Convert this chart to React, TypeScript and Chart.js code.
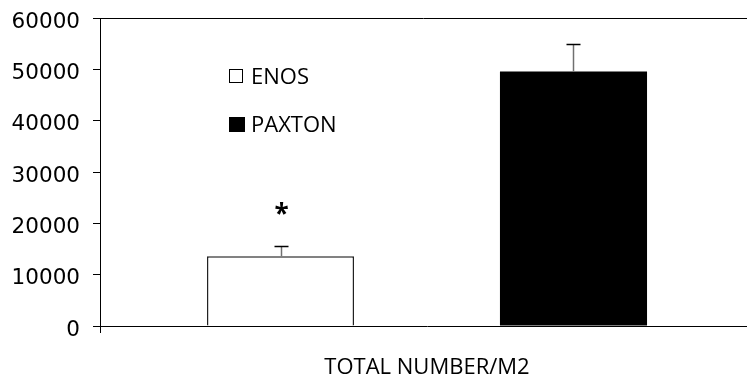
import React, { useEffect, useRef } from "react";
import { Chart, registerables } from "chart.js";

Chart.register(...registerables);

const categories = ["TOTAL NUMBER/M2"];
const seriesLabels = ["ENOS", "PAXTON"];
const enosValues = [13600];
const enosErrors = [1950];
const paxtonValues = [49600];
const paxtonErrors = [5400];
const yMin = 0;
const yMax = 60000;
const yStep = 10000;
const significanceMark = "*";

const FONT = "'Open Sans', sans-serif";

const errorBarPlugin = {
  id: "errorBars",
  afterDatasetsDraw(chart: any) {
    const { ctx, scales } = chart;
    const y = scales.y;
    chart.data.datasets.forEach((ds: any, di: number) => {
      const meta = chart.getDatasetMeta(di);
      meta.data.forEach((bar: any, i: number) => {
        const err = ds.errors?.[i];
        if (err == null) return;
        const top = Math.round(y.getPixelForValue(ds.data[i] + err)) + 0.5;
        const x = Math.round(bar.x) + 0.5;
        ctx.save();
        ctx.strokeStyle = "#707070";
        ctx.lineWidth = 1.5;
        ctx.beginPath();
        ctx.moveTo(x, bar.y);
        ctx.lineTo(x, top);
        ctx.stroke();
        ctx.strokeStyle = "#000";
        ctx.lineWidth = 1.5;
        ctx.beginPath();
        ctx.moveTo(x - 7, top);
        ctx.lineTo(x + 7, top);
        ctx.stroke();
        if (ds.mark) {
          ctx.fillStyle = "#000";
          ctx.font = `bold 26px ${FONT}`;
          ctx.textAlign = "center";
          ctx.textBaseline = "middle";
          ctx.fillText(ds.mark, x, top - 31);
        }
        ctx.restore();
      });
    });
  },
};

const frameLegendPlugin = {
  id: "frameLegend",
  afterDraw(chart: any) {
    const { ctx, chartArea } = chart;
    ctx.save();
    ctx.strokeStyle = "#000";
    ctx.lineWidth = 1;
    ctx.beginPath();
    ctx.moveTo(chartArea.left - 7, Math.round(chartArea.top) + 0.5);
    ctx.lineTo(chartArea.right, Math.round(chartArea.top) + 0.5);
    ctx.stroke();
    const lx = 229;
    const rows = [76, 124];
    chart.data.datasets.forEach((ds: any, i: number) => {
      const cy = rows[i];
      if (i === 0) {
        ctx.strokeStyle = "#000";
        ctx.lineWidth = 1;
        ctx.strokeRect(lx + 0.5, cy - 6.5, 13, 13);
      } else {
        ctx.fillStyle = "#000";
        ctx.fillRect(lx, cy - 7, 16, 15);
      }
      ctx.fillStyle = "#000";
      ctx.font = `22px ${FONT}`;
      ctx.textAlign = "left";
      ctx.textBaseline = "alphabetic";
      ctx.fillText(ds.label, 251, cy + 8);
    });
    ctx.restore();
  },
};

export default function App() {
  const ref = useRef<HTMLCanvasElement>(null);
  useEffect(() => {
    if (!ref.current) return;
    const chart = new Chart(ref.current, {
      type: "bar",
      data: {
        labels: categories,
        datasets: [
          {
            label: seriesLabels[0],
            data: enosValues,
            errors: enosErrors,
            mark: significanceMark,
            backgroundColor: "#ffffff",
            borderColor: "#222",
            borderWidth: 1.5,
          } as any,
          {
            label: seriesLabels[1],
            data: paxtonValues,
            errors: paxtonErrors,
            backgroundColor: "#000000",
            borderColor: "#000000",
            borderWidth: 0,
          } as any,
        ],
      },
      options: {
        animation: false,
        responsive: false,
        maintainAspectRatio: false,
        layout: { padding: { top: 18, right: 6, left: 0, bottom: 0 } },
        datasets: { bar: { categoryPercentage: 0.896, barPercentage: 0.502 } },
        plugins: { legend: { display: false }, tooltip: { enabled: false } },
        scales: {
          x: {
            grid: { drawOnChartArea: false, drawTicks: true, tickLength: 7, color: "#000", offset: true },
            border: { display: true, color: "#000", width: 1 },
            ticks: { color: "#000", font: { family: FONT, size: 22 }, padding: 22 },
            afterFit(scale: any) {
              scale.height = 55;
              scale.paddingLeft = 0;
              scale.paddingRight = 0;
            },
          },
          y: {
            min: yMin,
            max: yMax,
            grid: { drawOnChartArea: false, drawTicks: true, tickLength: 7, color: "#000" },
            border: { display: true, color: "#000", width: 1 },
            ticks: {
              stepSize: yStep,
              color: "#000",
              font: { family: "'DejaVu Sans', sans-serif", size: 21.5 },
              padding: 13,
              labelOffset: 4,
              callback: (v: any) => String(v),
            },
            afterFit(scale: any) {
              scale.width = 100;
              scale.paddingTop = 0;
              scale.paddingBottom = 0;
            },
          },
        },
      },
      plugins: [errorBarPlugin, frameLegendPlugin],
    });
    return () => chart.destroy();
  }, []);
  return (
    <div style={{ position: "absolute", left: 0, top: 0, width: 747, height: 381, overflow: "hidden", background: "#fff" }}>
      <canvas ref={ref} width={760} height={381} style={{ width: 760, height: 381, display: "block" }} />
    </div>
  );
}
